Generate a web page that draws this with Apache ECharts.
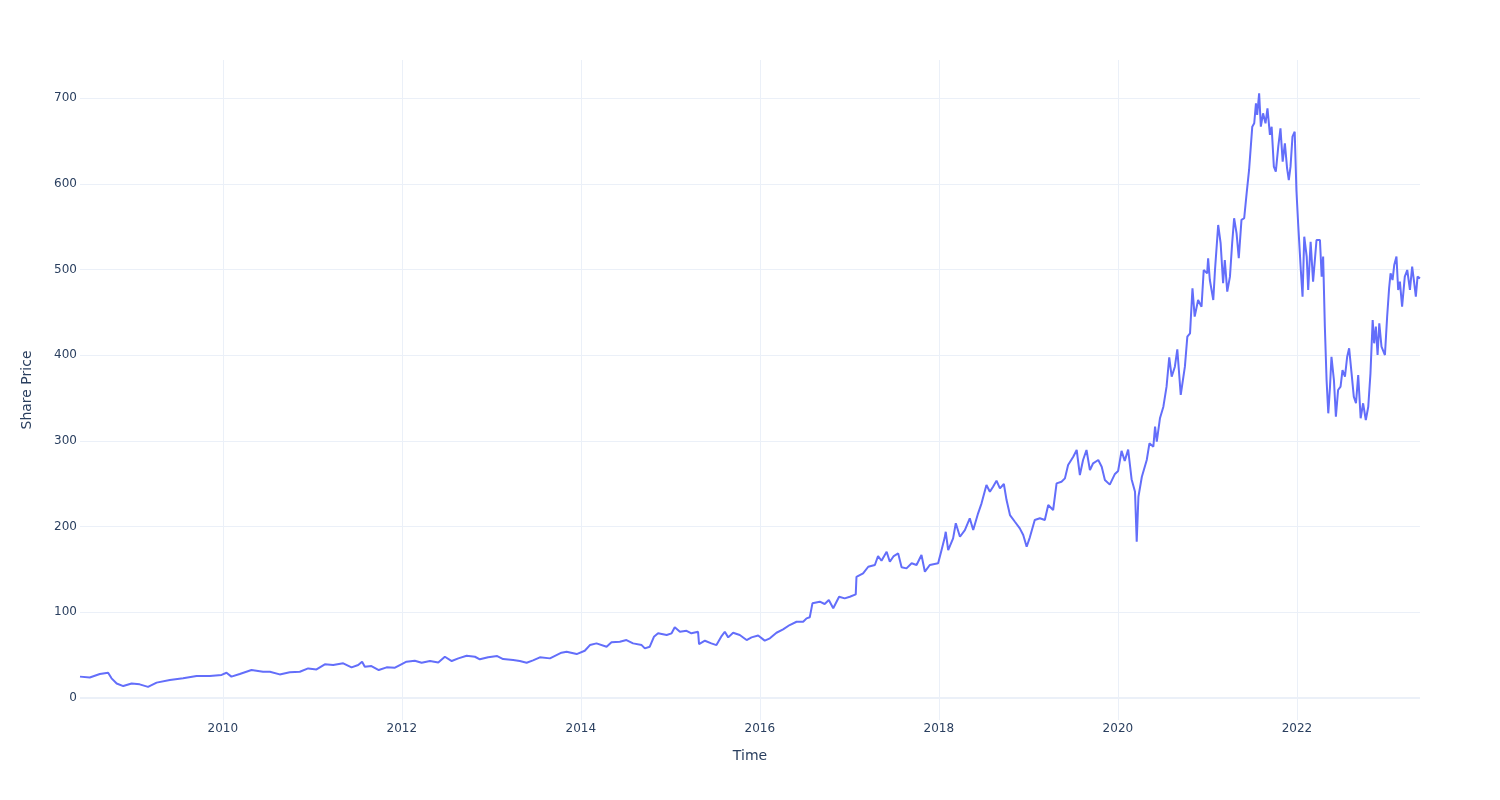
<!DOCTYPE html>
<html>
<head>
<meta charset="utf-8">
<script src="https://cdn.jsdelivr.net/npm/echarts@6/dist/echarts.min.js"></script>
<style>
html,body{margin:0;padding:0;background:#fff;}
#chart{width:1500px;height:800px;}
</style>
</head>
<body>
<div id="chart"></div>
<script>
const dates = [
'2008-05-28','2008-07-07','2008-08-17','2008-09-20','2008-10-04','2008-10-25','2008-11-21','2008-12-25',
'2009-01-27','2009-03-02','2009-04-06','2009-05-30','2009-07-23','2009-09-16','2009-11-09','2009-12-27',
'2010-01-16','2010-02-05','2010-03-11','2010-04-28','2010-06-14','2010-07-12','2010-08-21','2010-10-01','2010-11-11','2010-12-15',
'2011-01-18','2011-02-21','2011-03-27','2011-05-07','2011-06-10','2011-07-07','2011-07-23','2011-08-03','2011-08-30','2011-09-29','2011-10-31','2011-12-04','2011-12-24',
'2012-01-20','2012-02-23','2012-03-22','2012-04-25','2012-05-29','2012-06-25','2012-07-23','2012-08-19','2012-09-22','2012-10-26','2012-11-15','2012-12-19',
'2013-01-25','2013-02-18','2013-03-31','2013-04-27','2013-05-25','2013-06-20','2013-07-18','2013-08-28','2013-10-14','2013-11-04','2013-12-15',
'2014-01-17','2014-02-07','2014-03-06','2014-04-16','2014-05-06','2014-06-09','2014-07-06','2014-08-02','2014-09-06','2014-09-19','2014-10-09','2014-10-26','2014-11-12','2014-12-17',
'2015-01-06','2015-01-19','2015-02-09','2015-03-08','2015-03-28','2015-04-24','2015-04-28','2015-05-22','2015-06-17','2015-07-08','2015-07-29','2015-08-11','2015-08-25','2015-09-14','2015-10-11','2015-11-08','2015-11-28','2015-12-25',
'2016-01-21','2016-02-11','2016-03-09','2016-04-05','2016-05-02','2016-05-30','2016-06-26','2016-07-10','2016-07-23','2016-08-03','2016-09-02','2016-09-22','2016-10-09','2016-10-27','2016-11-20','2016-12-13',
'2017-01-03','2017-01-27','2017-01-30','2017-02-26','2017-03-19','2017-04-15','2017-04-28','2017-05-12','2017-06-02','2017-06-15','2017-07-01','2017-07-19','2017-08-02','2017-08-22','2017-09-12','2017-10-02','2017-10-22','2017-11-05','2017-11-25','2017-12-29',
'2018-01-12','2018-01-25','2018-01-29','2018-02-08','2018-02-28','2018-03-11','2018-03-28','2018-04-17','2018-05-07','2018-05-21','2018-06-10','2018-06-24','2018-07-14','2018-07-28','2018-08-10','2018-08-24','2018-09-07','2018-09-23','2018-10-04','2018-10-18','2018-11-07','2018-11-27','2018-12-11','2018-12-25',
'2019-01-07','2019-01-27','2019-02-17','2019-03-09','2019-03-23','2019-04-12','2019-04-26','2019-05-16','2019-05-30','2019-06-12','2019-07-03','2019-07-17','2019-07-30','2019-08-12','2019-08-26','2019-09-09','2019-09-22','2019-10-13','2019-10-27','2019-11-09','2019-11-29','2019-12-20',
'2020-01-02','2020-01-16','2020-01-29','2020-02-12','2020-02-26','2020-03-11','2020-03-18','2020-03-25','2020-04-08','2020-04-28','2020-05-09','2020-05-25','2020-06-01','2020-06-08','2020-06-21','2020-07-05','2020-07-18','2020-07-29','2020-08-08','2020-08-21','2020-08-31','2020-09-14','2020-10-01','2020-10-11','2020-10-22','2020-11-01','2020-11-10','2020-11-24','2020-12-08','2020-12-17','2020-12-31',
'2021-01-04','2021-01-11','2021-01-25','2021-02-01','2021-02-14','2021-02-24','2021-03-06','2021-03-13','2021-03-23','2021-04-03','2021-04-12','2021-04-20','2021-04-30','2021-05-09','2021-05-20','2021-05-31','2021-06-10','2021-06-20','2021-07-03','2021-07-11','2021-07-18','2021-07-23','2021-07-31','2021-08-07','2021-08-16','2021-08-26','2021-09-03','2021-09-13','2021-09-20','2021-09-29','2021-10-07','2021-10-17','2021-10-26','2021-11-04','2021-11-13','2021-11-22','2021-11-29','2021-12-06','2021-12-14','2021-12-23','2021-12-30',
'2022-01-06','2022-01-17','2022-01-24','2022-01-31','2022-02-10','2022-02-16','2022-02-26','2022-03-08','2022-03-22','2022-04-05','2022-04-12','2022-04-18','2022-04-25','2022-05-02','2022-05-09','2022-05-16','2022-05-22','2022-06-01','2022-06-09','2022-06-18','2022-06-28','2022-07-06','2022-07-16','2022-07-25','2022-08-02','2022-08-12','2022-08-21','2022-08-30','2022-09-08','2022-09-18','2022-09-28','2022-10-09','2022-10-19','2022-10-28','2022-11-06','2022-11-12','2022-11-19','2022-11-26','2022-12-03','2022-12-12','2022-12-26',
'2023-01-04','2023-01-12','2023-01-18','2023-01-26','2023-02-02','2023-02-11','2023-02-18','2023-02-25','2023-03-06','2023-03-17','2023-03-27','2023-04-07','2023-04-16','2023-04-23','2023-05-01','2023-05-08','2023-05-18'
];
const prices = [
25,24,28,29.5,23,17,14,17,
16,13,18,21,23,25.7,25.7,27,
29.5,25,28,32.7,30.7,30.7,27.6,30,30.7,34.6,
33.4,39.3,38.5,40.5,35.8,38.5,42.4,36.5,37.3,32.7,35.8,35.4,38.5,
42.4,43.6,41.2,43.2,41.6,48.2,43.2,46.3,49.4,48.2,45.2,47.5,
49,45.5,44.3,43.2,41.2,44,47.5,46.3,52.9,54,51.3,
55.2,61.8,63.8,59.9,65,65.7,67.7,63.8,61.8,58,59.9,71.5,75.5,73.5,
75.5,82.5,77.4,78.5,75.5,77.4,63,66.9,63.8,61.8,72.3,77.4,70.8,76.2,73.5,67.7,70.8,73,
67,69.7,76.2,80.2,85.2,89,89,93,94.2,110.5,112.4,109.7,114.4,104.7,118.2,116.3,
118.2,121,141.5,145.5,153.2,155.2,165.7,160.2,170.7,159,165.7,168.8,152.5,151.3,157.2,155.2,166.9,147.4,155.2,157.2,
172.7,187.5,194,172.7,186.3,203.9,188.2,196,209.7,196,215.5,227.2,248.5,240.7,246.6,253.6,244.7,249.7,231,213.5,205.7,198,190.2,176.5,
187.5,207.7,209.7,207.7,225.2,219.4,250.5,252.4,256.3,271.9,281.6,289.4,260.2,277.7,289.4,266,273.9,277.7,269.9,254.4,249,261.5,
265,288.4,276.7,289.8,255.4,240.8,182.4,234.9,258.2,277.7,297.2,293.2,316.6,299.1,326.4,339.9,363.3,397.5,374.9,386.6,406.9,353.6,386.6,421.6,425.5,478.1,445,464.4,456.6,499.4,495.5,
513.1,487.7,464.4,499.4,551.9,530.6,483.9,511.1,474.1,491.6,530.6,559.8,542.2,513.1,557.8,559.8,588.9,616.1,666.6,670.6,693.9,680.3,705.6,666.6,682.2,670.6,688,657,666.6,620,614.1,643.3,664.7,625.8,647.2,618,604.4,620,655,660.8,592.8,
553.9,499.4,468.3,538.3,515,476.1,532.4,485.8,534.4,534.4,491.6,515,433.3,371,332.2,363.3,398.2,371,328.2,359.4,363.3,382.7,374.9,398.2,408,378.8,351.6,343.9,376.9,326.4,343.9,324.4,339.9,378.8,441.1,413.9,433.3,400.2,437.2,409.9,400.2,
444.9,478.1,495.5,487.7,505.3,515,476.1,485.8,456.6,491.6,499.4,476.1,503.3,487.7,468.3,491.6,489.7
];
const xTitle = 'Time';
const yTitle = 'Share Price';

function toYear(s) {
  const d = new Date(s + 'T00:00:00Z');
  const y = d.getUTCFullYear();
  const a = Date.UTC(y, 0, 1), b = Date.UTC(y + 1, 0, 1);
  return y + (d.getTime() - a) / (b - a);
}
const seriesData = dates.map((d, i) => [toYear(d), prices[i]]);

const FONT = 'DejaVu Sans';
const TXT = '#2a3f5f';
const GRID = '#EBF0F8';

const chart = echarts.init(document.getElementById('chart'), null, {renderer: 'canvas'});
chart.setOption({
  animation: false,
  backgroundColor: '#ffffff',
  grid: {left: 80, right: 80, top: 60, bottom: 80, containLabel: false},
  xAxis: {
    type: 'value',
    min: 'dataMin',
    max: 'dataMax',
    minInterval: 2,
    maxInterval: 2,
    name: xTitle,
    nameLocation: 'middle',
    nameGap: 29,
    nameTextStyle: {color: TXT, fontFamily: FONT, fontSize: 14},
    axisLine: {show: false},
    axisTick: {show: false},
    axisLabel: {
      color: TXT, fontFamily: FONT, fontSize: 12, margin: 3,
      showMinLabel: false, showMaxLabel: false,
      formatter: v => String(Math.round(v))
    },
    splitLine: {show: true, showMinLine: false, showMaxLine: false, lineStyle: {color: GRID, width: 1}}
  },
  yAxis: {
    type: 'value',
    min: -25.6,
    max: 744.4,
    minInterval: 100,
    maxInterval: 100,
    name: yTitle,
    nameLocation: 'middle',
    nameGap: 46,
    nameTextStyle: {color: TXT, fontFamily: FONT, fontSize: 14},
    axisLine: {show: false},
    axisTick: {show: false},
    axisLabel: {
      color: TXT, fontFamily: FONT, fontSize: 12, margin: 3,
      showMinLabel: false, showMaxLabel: false
    },
    splitLine: {show: true, showMinLine: false, showMaxLine: false, lineStyle: {color: GRID, width: 1}}
  },
  series: [{
    type: 'line',
    data: seriesData,
    showSymbol: false,
    symbol: 'none',
    lineStyle: {color: '#636efa', width: 2},
    itemStyle: {color: '#636efa'},
    markLine: {
      silent: true,
      symbol: ['none', 'none'],
      label: {show: false},
      lineStyle: {color: GRID, width: 2, type: 'solid'},
      data: [{yAxis: 0}]
    }
  }]
});
</script>
</body>
</html>
